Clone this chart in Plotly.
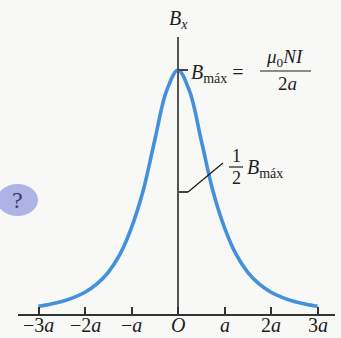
import plotly.graph_objects as go

# On-axis field of a circular coil, in units of a (position) and B_máx (field)
x_over_a = [-3.0, -2.75, -2.5, -2.25, -2.0, -1.75, -1.5, -1.25, -1.0, -0.75, -0.5, -0.25,
            0.0, 0.25, 0.5, 0.75, 1.0, 1.25, 1.5, 1.75, 2.0, 2.25, 2.5, 2.75, 3.0]
bx_over_bmax = [0.032, 0.040, 0.051, 0.067, 0.089, 0.122, 0.171, 0.244, 0.354, 0.505, 0.712, 0.912,
                1.000, 0.912, 0.712, 0.505, 0.354, 0.244, 0.171, 0.122, 0.089, 0.067, 0.051, 0.040, 0.032]

tick_vals = [-3, -2, -1, 0, 1, 2, 3]
tick_text = ["−3<i>a</i>", "−2<i>a</i>", "−<i>a</i>", "<i>O</i>", "<i>a</i>", "2<i>a</i>", "3<i>a</i>"]
b_marks = [0.5, 1.0]  # ½ B_máx and B_máx

W, H = 341, 338
BOTTOM = 24          # room under the horizontal axis for labels
X0, UX = 178, 46.5   # pixel of the origin, pixels per a
Y0, UY = H - BOTTOM, 244  # pixel of B = 0, pixels per B_máx
AX_LEFT, AX_RIGHT, AX_TOP = 18, 335, 37

SERIF = "Liberation Serif"
INK = "#1e1e1e"
CURVE = "#4390dc"


def dx(px):
    return (px - X0) / UX


def dy(py):
    return (Y0 - py) / UY


def paper_x(px):
    return px / W


def paper_y(py):
    return (Y0 - py) / Y0


fig = go.Figure()
fig.add_trace(go.Scatter(
    x=x_over_a, y=bx_over_bmax, mode="lines",
    line=dict(color=CURVE, width=3.6, shape="spline", smoothing=1.0),
    cliponaxis=False, hoverinfo="skip", showlegend=False,
))

half, full = b_marks


def label(text, x, y, size=20, xanchor="center", yref="y"):
    fig.add_annotation(text=text, x=x, y=y, xref="x", yref=yref, showarrow=False,
                       xanchor=xanchor, yanchor="middle",
                       font=dict(family=SERIF, size=size, color=INK))


# position labels under the horizontal axis
for v, t in zip(tick_vals, tick_text):
    label(t, v, paper_y(325), size=20, yref="paper")

# axis title
label("<i>B<sub>x</sub></i>", dx(178), paper_y(20), size=20, yref="paper")

# B_máx = μ0 N I / 2a
label("<i>B</i><sub>máx</sub> =", dx(189), dy(73), size=20, xanchor="left")
label("<i>μ</i><sub>0</sub><i>NI</i>", dx(285), dy(58), size=19)
label("2<i>a</i>", dx(287), dy(83), size=19)
fig.add_shape(type="line", xref="x", yref="y", x0=dx(260), x1=dx(311), y0=dy(71), y1=dy(71),
              line=dict(color=INK, width=1.2))

# ½ B_máx with its leader line
label("1", dx(236), dy(156), size=18)
label("2", dx(236), dy(178), size=18)
fig.add_shape(type="line", xref="x", yref="y", x0=dx(229), x1=dx(243), y0=dy(167), y1=dy(167),
              line=dict(color=INK, width=1.2))
label("<i>B</i><sub>máx</sub>", dx(245), dy(168), size=20, xanchor="left")
fig.add_shape(type="line", xref="x", yref="y", x0=dx(188), x1=dx(223), y0=half, y1=dy(163),
              line=dict(color=INK, width=1.3))

# "?" marker at the left margin
fig.add_shape(type="circle", xref="paper", yref="paper",
              x0=paper_x(-3), x1=paper_x(38), y0=paper_y(184), y1=paper_y(216),
              fillcolor="#adb3e6", line=dict(width=0), layer="below")
fig.add_annotation(text="?", xref="paper", yref="paper", x=paper_x(10), y=paper_y(200),
                   showarrow=False, font=dict(family=SERIF, size=24, color="#353c62"))

fig.update_layout(
    width=W, height=H,
    margin=dict(l=0, r=0, t=0, b=BOTTOM, pad=0),
    paper_bgcolor="#f8f8f6", plot_bgcolor="rgba(0,0,0,0)",
    showlegend=False,
    xaxis=dict(
        domain=[AX_LEFT / W, AX_RIGHT / W],
        range=[dx(AX_LEFT), dx(AX_RIGHT)],
        showgrid=False, zeroline=False,
        showline=True, linecolor="#333333", linewidth=2,
        ticks="inside", ticklen=7, tickwidth=1.5, tickcolor="#333333",
        tickvals=tick_vals, showticklabels=False,
        automargin=False, fixedrange=True,
    ),
    yaxis=dict(
        domain=[0, (Y0 - AX_TOP) / Y0],
        range=[0, dy(AX_TOP)],
        anchor="free", position=X0 / W,
        showgrid=False, zeroline=False,
        showline=True, linecolor="#555555", linewidth=2,
        ticks="inside", ticklen=9, tickwidth=1.5, tickcolor="#444444",
        tickvals=b_marks, showticklabels=False,
        automargin=False, fixedrange=True,
    ),
)

fig.write_html("out.html")
